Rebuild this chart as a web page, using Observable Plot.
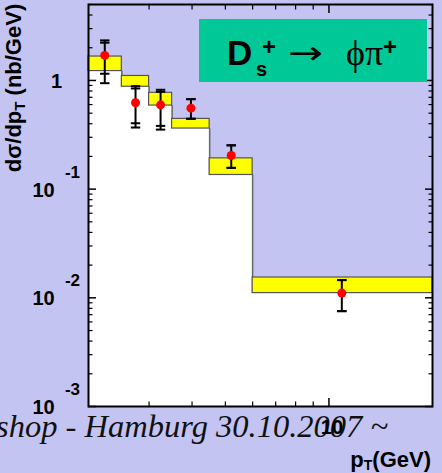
<!DOCTYPE html>
<html><head><meta charset="utf-8">
<script src="https://cdn.jsdelivr.net/npm/d3@7"></script>
<script src="https://cdn.jsdelivr.net/npm/@observablehq/plot@0.6"></script>
<style>
html,body{margin:0;padding:0;background:#c4c4f2;}
#chart{position:relative;width:442px;height:473px;overflow:hidden;}
svg{display:block;}
</style></head><body><div id="chart"></div>
<script>
// pT bins (GeV)
const binLo = [2, 2.5, 3, 3.5, 4.5, 6];
const binHi = [2.5, 3, 3.5, 4.5, 6, 20];
// theory band (nb/GeV)
const theoryLow  = [1.22, 0.875, 0.588, 0.361, 0.135, 0.01105];
const theoryHigh = [1.66, 1.10, 0.77, 0.443, 0.192, 0.01538];
// measured points
const ptMeas = [2.23, 2.74, 3.24, 3.97, 5.2, 10.9];
const xsec   = [1.70, 0.623, 0.597, 0.556, 0.204, 0.01105];
const statLo = [1.153, 0.404, 0.382, 0.444, 0.157, 0.00754];
const statHi = [2.226, 0.844, 0.787, 0.673, 0.253, 0.01456];
const totLo  = [0.944, 0.369, 0.353, 0.444, 0.157, 0.00754];
const totHi  = [2.337, 0.886, 0.821, 0.673, 0.253, 0.01456];
// axis ticks
const yExponents = [-3, -2, -1, 0];
const yMantissas = [2, 3, 4, 5, 6, 7, 8, 9];
const xMinorTicks = [3, 4, 5, 6, 7, 8, 9];
const xMajorTicks = [10];
const yDomain = [1e-3, 5];
const xDomain = [2, 20];

const bins = binLo.map((lo, i) => ({lo, hi: binHi[i], low: theoryLow[i], high: theoryHigh[i]}));
const edges = bins.slice(1).map((b, i) => ({x: b.lo, y1: bins[i].low, y2: b.low}));
const pts = ptMeas.map((x, i) => ({x, y: xsec[i], sLo: statLo[i], sHi: statHi[i], tLo: totLo[i], tHi: totHi[i]}));
const caps = pts.flatMap(p => [p.sLo, p.sHi, p.tLo, p.tHi].map(y => ({x: p.x, y})));
const yMajor = yExponents.map(e => Math.pow(10, e));
const yMinor = yExponents.flatMap(e => yMantissas.map(m => m * Math.pow(10, e))).filter(v => v <= yDomain[1]);
const yLabels = yExponents.filter(e => e !== 0).map(e => ({y: Math.pow(10, e), e: String(e)}));

const capSymbol = {draw(ctx, size) { const w = Math.sqrt(size / Math.PI); ctx.moveTo(-w, 0); ctx.lineTo(w, 0); }};

const bold = "Liberation Sans, Arial, Helvetica, sans-serif";

const chart = Plot.plot({
  width: 442, height: 473,
  marginLeft: 88, marginRight: 10, marginTop: 4, marginBottom: 67,
  style: {background: "transparent", fontFamily: bold},
  x: {type: "log", domain: xDomain, axis: null},
  y: {type: "log", domain: yDomain, axis: null},
  marks: [
    Plot.rect(bins, {x1: "lo", x2: "hi", y1: yDomain[0], y2: "low", fill: "white", shapeRendering: "crispEdges"}),
    Plot.ruleX(edges, {x: "x", y1: "y1", y2: "y2", stroke: "#666", strokeWidth: 1.5}),
    Plot.rect(bins, {x1: "lo", x2: "hi", y1: "low", y2: "high", fill: "#ffff00", stroke: "#555", strokeWidth: 1.2}),
    // y ticks (inward), left and right
    Plot.axisY(yMajor, {anchor: "left", tickSize: -8, tickFormat: () => "", label: null, strokeWidth: 1.5}),
    Plot.axisY(yMinor, {anchor: "left", tickSize: -4.5, tickFormat: () => "", label: null, strokeWidth: 1.2}),
    Plot.axisY(yMajor, {anchor: "right", tickSize: -8, tickFormat: () => "", label: null, strokeWidth: 1.5}),
    Plot.axisY(yMinor, {anchor: "right", tickSize: -4.5, tickFormat: () => "", label: null, strokeWidth: 1.2}),
    // x ticks (inward), bottom and top
    Plot.axisX(xMajorTicks, {anchor: "bottom", tickSize: -8, tickFormat: () => "", label: null, strokeWidth: 1.5}),
    Plot.axisX(xMinorTicks, {anchor: "bottom", tickSize: -4.5, tickFormat: () => "", label: null, strokeWidth: 1.2}),
    Plot.axisX(xMajorTicks, {anchor: "top", tickSize: -8, tickFormat: () => "", label: null, strokeWidth: 1.5}),
    Plot.axisX(xMinorTicks, {anchor: "top", tickSize: -4.5, tickFormat: () => "", label: null, strokeWidth: 1.2}),
    Plot.frame({stroke: "black", strokeWidth: 2}),
    // error bars
    Plot.ruleX(pts, {x: "x", y1: "tLo", y2: "tHi", stroke: "black", strokeWidth: 2}),
    Plot.dot(caps, {x: "x", y: "y", r: 4.7, symbol: capSymbol, fill: "none", stroke: "black", strokeWidth: 2}),
    Plot.dot(pts, {x: "x", y: "y", r: 4.5, fill: "#ff0000", stroke: "none"}),
    // y tick labels
    Plot.text(yLabels, {y: "y", frameAnchor: "left", dx: -45, dy: 1, text: () => "10", fontSize: 20, fontWeight: "bold", fill: "black", textAnchor: "middle"}),
    Plot.text(yLabels, {y: "y", frameAnchor: "left", dx: -16, dy: -17, text: "e", fontSize: 17, fontWeight: "bold", fill: "black", textAnchor: "middle"}),
    Plot.text([1], {y: d => d, frameAnchor: "left", dx: -32, dy: 1, text: () => "1", fontSize: 20, fontWeight: "bold", fill: "black", textAnchor: "middle"}),
    // x tick label
    Plot.text(xMajorTicks, {x: d => d, frameAnchor: "bottom", dx: 3, dy: 27, text: d => String(d), fontSize: 20, fontWeight: "bold", fill: "black", textAnchor: "middle"})
  ]
});

const svg = d3.select(chart);
// footer text of the slide (behind the axis labels)
svg.insert("text", ":first-child").attr("x", 388).attr("y", 437).attr("text-anchor", "end")
  .attr("font-family", "Liberation Serif").attr("font-style", "italic").attr("font-size", 32.5).attr("fill", "#111")
  .text("Workshop - Hamburg 30.10.2007 ~");
// y axis title
const yt = svg.append("text")
  .attr("transform", "translate(21,88) rotate(-90)")
  .attr("text-anchor", "middle")
  .attr("font-family", bold).attr("font-weight", "bold").attr("font-size", 22).attr("fill", "black");
yt.append("tspan").text("dσ/dp");
yt.append("tspan").attr("font-size", 15).attr("dy", 4).text("T");
yt.append("tspan").attr("dy", -4).text(" (nb/GeV)");
// x axis title
const xt = svg.append("text")
  .attr("x", 431).attr("y", 467).attr("text-anchor", "end")
  .attr("font-family", bold).attr("font-weight", "bold").attr("font-size", 22).attr("fill", "black");
xt.append("tspan").text("p");
xt.append("tspan").attr("font-size", 14).attr("dy", 3).text("T");
xt.append("tspan").attr("dy", -3).text("(GeV)");
// legend box
svg.append("rect").attr("x", 199).attr("y", 19).attr("width", 228).attr("height", 63).attr("fill", "#00c896");
const lt = (x, y, s, opts) => {
  const t = svg.append("text").attr("x", x).attr("y", y).attr("text-anchor", "start").attr("fill", "black")
    .attr("font-family", opts.family || bold).attr("font-size", opts.size).text(s);
  if (opts.bold) t.attr("font-weight", "bold");
  if (opts.len) t.attr("textLength", opts.len).attr("lengthAdjust", "spacingAndGlyphs");
  return t;
};
lt(227, 65, "D", {size: 35, bold: true});
lt(256, 76, "s", {size: 20, bold: true});
lt(262, 55, "+", {size: 24, bold: true});
lt(288, 64, "→", {size: 32, family: "DejaVu Sans", len: 35});
lt(346, 65, "ϕπ", {size: 36, family: "Liberation Serif", len: 37});
lt(383, 55, "+", {size: 24, bold: true});

document.getElementById("chart").appendChild(chart);
</script></body></html>
